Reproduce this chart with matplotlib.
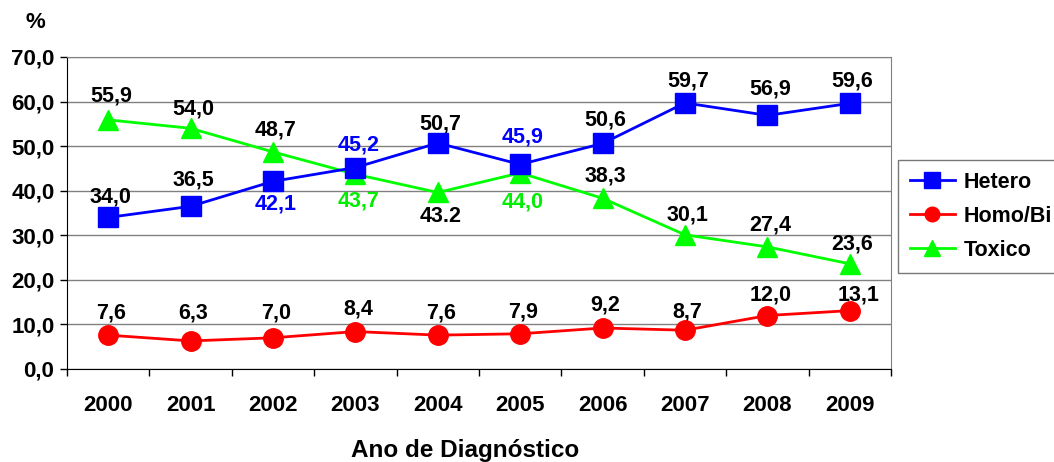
import matplotlib
matplotlib.use("Agg")
import matplotlib.pyplot as plt
import numpy as np

plt.rcParams["font.family"] = ["Liberation Sans", "DejaVu Sans"]
plt.rcParams["font.weight"] = "bold"

anos = ["2000", "2001", "2002", "2003", "2004", "2005", "2006", "2007", "2008", "2009"]
hetero = [34.0, 36.5, 42.1, 45.2, 50.7, 45.9, 50.6, 59.7, 56.9, 59.6]
homo = [7.6, 6.3, 7.0, 8.4, 7.6, 7.9, 9.2, 8.7, 12.0, 13.1]
toxico = [55.9, 54.0, 48.7, 43.7, 39.6, 44.0, 38.3, 30.1, 27.4, 23.6]
# rotulos como aparecem no grafico original (2004 do Toxico esta escrito "43.2")
rot_hetero = ["34,0", "36,5", "42,1", "45,2", "50,7", "45,9", "50,6", "59,7", "56,9", "59,6"]
rot_homo = ["7,6", "6,3", "7,0", "8,4", "7,6", "7,9", "9,2", "8,7", "12,0", "13,1"]
rot_toxico = ["55,9", "54,0", "48,7", "43,7", "43.2", "44,0", "38,3", "30,1", "27,4", "23,6"]

# deslocamento dos rotulos (pontos) e cor
dy_hetero = [15, 19, -16, 16, 14, 20, 17, 16, 19, 16]
cor_hetero = ["black", "black", "blue", "blue", "black", "blue", "black", "black", "black", "black"]
dy_homo = [16, 20, 18, 16, 16, 16, 16.5, 13, 14.5, 11]
dx_homo = [2, 2, 2, 2, 2, 2, 2, 2, 2, 6.5]
dy_toxico = [17, 14, 16, -19, -17, -21, 16, 14, 16, 14]
cor_toxico = ["black", "black", "black", "#00EE00", "black", "#00EE00", "black", "black", "black", "black"]

W, H = 1054, 462
fig = plt.figure(figsize=(W / 100, H / 100), dpi=100)
ax = fig.add_axes([67 / W, 1 - 369 / H, (891 - 67) / W, (369 - 57) / H])

x = np.arange(len(anos))
ax.plot(x, hetero, color="#0000FF", lw=2, marker="s", ms=15, label="Hetero", zorder=4)
ax.plot(x, homo, color="#FF0000", lw=2, marker="o", ms=14, label="Homo/Bi", zorder=4)
ax.plot(x, toxico, color="#00FF00", lw=2, marker="^", ms=15, label="Toxico", zorder=3)

for i in x:
    ax.annotate(rot_hetero[i], (i, hetero[i]), xytext=(2, dy_hetero[i]), textcoords="offset points",
                ha="center", va="center", fontsize=15.5, fontweight="bold", color=cor_hetero[i])
    ax.annotate(rot_homo[i], (i, homo[i]), xytext=(dx_homo[i], dy_homo[i]), textcoords="offset points",
                ha="center", va="center", fontsize=15.5, fontweight="bold", color="black")
    ax.annotate(rot_toxico[i], (i, toxico[i]), xytext=(2, dy_toxico[i]), textcoords="offset points",
                ha="center", va="center", fontsize=15.5, fontweight="bold", color=cor_toxico[i])

ax.set_xlim(-0.5, len(anos) - 0.5)
ax.set_ylim(0, 70)
ax.set_yticks(np.arange(0, 71, 10))
ax.set_yticklabels([f"{v:.1f}".replace(".", ",") for v in np.arange(0, 71, 10)])
ax.set_xticks(x)
ax.set_xticklabels(anos)
ax.set_xticks(np.arange(-0.5, len(anos), 1), minor=True)
ax.tick_params(axis="x", which="major", length=0, pad=19, labelsize=16)
ax.tick_params(axis="x", which="minor", length=5, width=1, direction="out")
ax.tick_params(axis="y", length=5, width=1, pad=4, labelsize=16)

ax.grid(axis="y", color="#808080", lw=1)
ax.set_axisbelow(True)
for s in ["top", "right"]:
    ax.spines[s].set_color("#808080")
for s in ["left", "bottom"]:
    ax.spines[s].set_color("black")

fig.text(35 / W, 1 - 23 / H, "%", ha="center", va="center", fontsize=16, fontweight="bold")
fig.text(465 / W, 1 - 451 / H, "Ano de Diagnóstico", ha="center", va="center", fontsize=17.5, fontweight="bold")

leg = fig.legend(loc="upper left", bbox_to_anchor=(898 / W, 1 - 160 / H), bbox_transform=fig.transFigure,
                 borderaxespad=0, fancybox=False, edgecolor="#555555", fontsize=15.5,
                 handlelength=2.1, handletextpad=0.4, labelspacing=0.6, borderpad=0.55, markerscale=0.75)
leg.get_frame().set_linewidth(1)
for t in leg.get_texts():
    t.set_fontweight("bold")

fig.savefig("out.png", dpi=100)
